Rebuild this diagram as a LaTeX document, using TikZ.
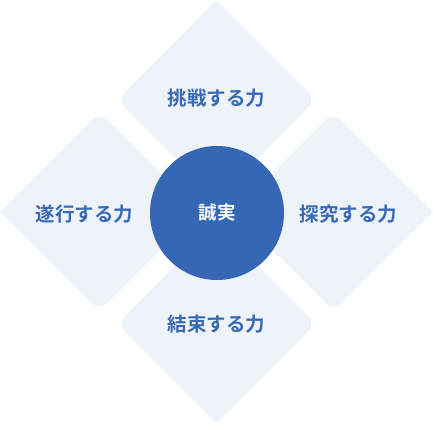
\documentclass[tikz,border=0pt]{standalone}
\usepackage{fontspec}
\newfontfamily\jp{Noto Sans CJK JP}[BoldFont={Noto Sans CJK JP Bold}]
\definecolor{petalfill}{HTML}{EEF3F9}
\definecolor{corefill}{HTML}{3567B4}
\definecolor{labelblue}{HTML}{3A6AB4}
\tikzset{
  petal/.style={fill=petalfill, rounded corners=11pt},
  tip/.style={fill=petalfill},
  lbl/.style={font=\jp\bfseries\fontsize{19.5pt}{19.5pt}\selectfont, text=labelblue, inner sep=0pt},
  core/.style={circle, fill=corefill, minimum size=134pt, inner sep=0pt,
    font=\jp\bfseries\fontsize{18.5pt}{18.5pt}\selectfont, text=white}
}
\begin{document}
\begin{tikzpicture}[x=1pt,y=-1pt]
\useasboundingbox (0,0) rectangle (433,423);
% top
\fill[petal] (216.5,0) -- (316,99.5) -- (216.5,199) -- (117,99.5) -- cycle;
\fill[tip] (216.5,0) -- (236.5,20) -- (196.5,20) -- cycle;
% bottom
\fill[petal] (216.5,224) -- (316,323.5) -- (216.5,423) -- (117,323.5) -- cycle;
\fill[tip] (216.5,423) -- (236.5,403) -- (196.5,403) -- cycle;
% left
\fill[petal] (99.5,112) -- (199,211.5) -- (99.5,311) -- (0,211.5) -- cycle;
\fill[tip] (0,211.5) -- (20,191.5) -- (20,231.5) -- cycle;
% right
\fill[petal] (333.5,112) -- (433,211.5) -- (333.5,311) -- (234,211.5) -- cycle;
\fill[tip] (433,211.5) -- (413,191.5) -- (413,231.5) -- cycle;
% centre
\node[core] (c) at (217,213) {誠実};
% labels
\node[lbl] (t) at (216.5,98) {挑戦する力};
\node[lbl] (b) at (216.5,324) {結束する力};
\node[lbl] (l) at (84.5,214) {遂行する力};
\node[lbl] (r) at (348.5,214) {探究する力};
\end{tikzpicture}
\end{document}
